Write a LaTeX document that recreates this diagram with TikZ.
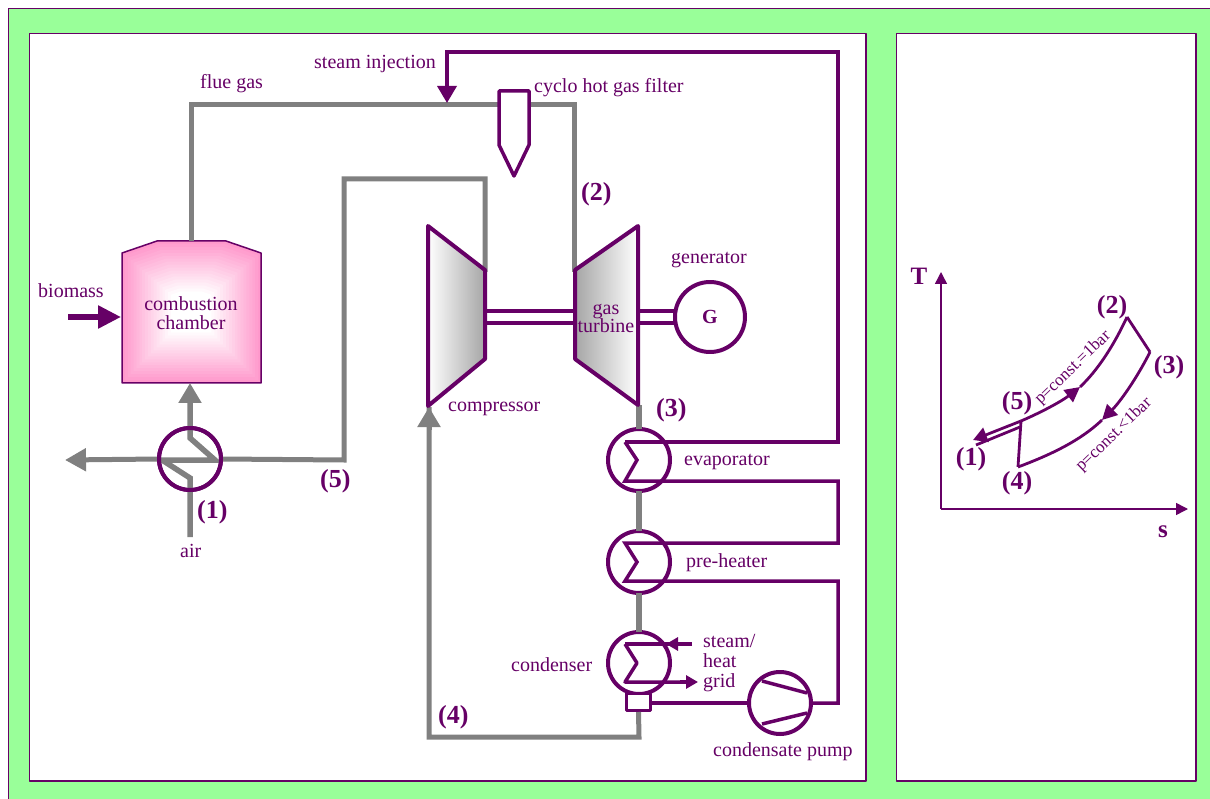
\documentclass[tikz,border=0pt]{standalone}
\usepackage{fontspec}
\setmainfont{Liberation Serif}
\usetikzlibrary{arrows.meta,calc}
\definecolor{violet1}{HTML}{660066}
\definecolor{pipegray}{HTML}{808080}
\definecolor{mintbg}{HTML}{99FF99}
\definecolor{rosefill}{HTML}{FF99CC}

\begin{document}
\begin{tikzpicture}[x=1pt, y=-1pt, >=Stealth, line join=round,
	   lbl/.style={text=violet1, font=\fontsize{20}{20}\selectfont, inner sep=0pt},
	   num/.style={text=violet1, font=\fontsize{26}{26}\selectfont\bfseries, inner sep=0pt},
	   press/.style={lbl, font=\fontsize{17}{17}\selectfont, rotate=44},
	   panel/.style={draw=violet1, fill=white, line width=1.5pt},
	   gas/.style={draw=pipegray, line width=5pt},
	   heavygas/.style={draw=pipegray, line width=6.5pt},
	   gasarrow/.style={gas, -{Triangle[length=21pt, width=22pt]}},
	   water/.style={draw=violet1, line width=3.5pt},
	   hx/.style={circle, draw=violet1, line width=4pt, minimum size=62pt, inner sep=0pt, outer sep=0pt},
	   thin1/.style={draw=violet1, line width=1.5pt},
	   cyc/.style={draw=violet1, line width=2.8pt}]
	  \useasboundingbox (0,0) rectangle (1210,799);
	  % panels
	  \path[fill=mintbg, draw=violet1, line width=1.5pt] (8.5,8.5) rectangle (1215,805);
	  \path[panel] (29.5,33.5) rectangle (866,781);
	  \path[panel] (896.5,33.5) rectangle (1196,781);

	  % named points of the gas and water lines
	  \coordinate (chtop) at (191,241);
	  \coordinate (flueA) at (191,105);
	  \coordinate (flueB) at (574,105);
	  \coordinate (turbin) at (574,272);
	  \coordinate (compout) at (485,272);
	  \coordinate (recA) at (485,179);
	  \coordinate (recB) at (344,179);
	  \coordinate (recC) at (344,460);
	  \coordinate (exhaust) at (65,460);
	  \coordinate (airin) at (190,537);
	  \coordinate (inj) at (447,103);
	  \coordinate (injA) at (447,52);
	  \coordinate (injB) at (838,52);
	  \coordinate (injC) at (838,442);
	  \coordinate (loopA) at (838,481);
	  \coordinate (loopB) at (838,543);
	  \coordinate (loopC) at (838,581);
	  \coordinate (loopD) at (838,703);
	  \coordinate (retA) at (639,737);
	  \coordinate (retB) at (429,737);
	  \coordinate (compin) at (429,407);
	  \coordinate (turbout) at (639,405);
	  \coordinate (biomassin) at (68,317);

	  % combustion chamber, shaded by nested outlines
	  \foreach \i in {0,...,24}{
	    \pgfmathsetmacro{\sc}{1-\i/24}
	    \pgfmathsetmacro{\mixv}{max(0,100-\i*100/17)}
	    \fill[rosefill!\mixv!white, shift={(191,312)}, xscale=\sc, yscale=\sc]
	      (-69,-59) -- (-34,-71) -- (35,-71) -- (70,-59) -- (70,71) -- (-69,71) -- cycle;
	  }
	  \draw[thin1] (122,253) -- (157,241) -- (226,241) -- (261,253) -- (261,383) -- (122,383) -- cycle;
	  \node[lbl, align=center] (chamber) at (191,313) {combustion\\[-1pt]chamber};

	  % machines
	  \node[hx] (hx1) at (190,459) {};
	  \node[hx] (evap) at (639,460) {};
	  \node[hx] (preh) at (639,562) {};
	  \node[hx] (cond) at (639,663) {};
	  \node[hx] (pump) at (780,703) {};
	  \node[hx, minimum size=70pt, font=\fontsize{20}{20}\selectfont\bfseries, text=violet1] (gen) at (710,317) {G};
	  \node[draw=violet1, line width=3pt, fill=white, minimum width=24pt, minimum height=17pt, inner sep=0pt] (box) at (638.5,702) {};

	  % gas lines
	  \draw[gas, line join=miter] (chtop) -- (flueA) -- (flueB) -- (turbin);
	  \draw[gas, line join=miter] (compout) -- (recA) -- (recB) -- (recC) -- (hx1.east);
	  \draw[gasarrow] (hx1.west) -- (exhaust);
	  \draw[gas, line width=5.5pt, -{Triangle[length=20pt, width=22pt]}, line join=miter] (airin) -- (190,478) -- (162,460) -- (215,460) -- (190,438) -- (190,383);
	  \draw[heavygas] (turbout) -- (evap.north);
	  \draw[heavygas] (evap.south) -- (preh.north);
	  \draw[heavygas] (preh.south) -- (cond.north);
	  \draw[gas, line join=miter] (box.south) -- (retA) -- (retB) -- (compin) ;
	  \draw[gasarrow, -{Triangle[length=20pt, width=22pt]}] (429,430) -- (compin);
	  \node[hx] at (hx1) {};

	  % filter on the flue gas line
	  \draw[draw=violet1, line width=3.5pt, fill=white] (499,91) -- (529,91) -- (529,145) -- (514,176) -- (499,145) -- cycle;

	  % compressor and turbine
	  \draw[water, line width=4pt, left color=white, right color=black!35, shade]
	    (428,226) -- (485,270) -- (485,359) -- (428,406) -- cycle;
	  \draw[water, line width=4pt, left color=black!35, right color=white, shade]
	    (575,270) -- (638,226) -- (638,405) -- (575,359) -- cycle;
	  \draw[water, line width=4pt] (487,311) -- (574,311);
	  \draw[water, line width=4pt] (487,323) -- (574,323);
	  \draw[water, line width=4pt] (640,311) -- (677,311);
	  \draw[water, line width=4pt] (640,323) -- (677,323);

	  % water side
	  \draw[water, line join=miter] (625,442) -- (637,460) -- (625,481) -- (loopA) -- (loopB) -- (625,543) -- (637,562) -- (625,581) -- (loopC) -- (loopD) -- (pump.east);
	  \draw[water, line join=miter] (625,442) -- (injC) -- (injB) -- (injA) -- (447,88);
	  \draw[-{Triangle[length=17pt, width=19pt]}, water, violet1] (447,80) -- (inj);
	  \draw[water] (625,644) -- (637,663) -- (625,682) -- (686,682);
	  \draw[water] (625,644) -- (680,644);
	  \draw[water, -{Triangle[length=12pt, width=13pt]}] (692,644) -- (666,644);
	  \draw[water, -{Triangle[length=12pt, width=13pt]}] (680,682) -- (698,682);
	  \draw[water, line width=4pt] (box.east |- pump.west) -- (pump.west);
	  \draw[water] (762,681) -- (807,693);
	  \draw[water] (762,724) -- (807,713);
	  \draw[violet1, line width=5.5pt, -{Triangle[length=23pt, width=22pt]}] (biomassin) -- (121,317);

	  % labels of the plant
	  \node[lbl, anchor=west] (lflue) at (200,84) {flue gas};
	  \node[lbl, anchor=west] (lsteam) at (314,64) {steam injection};
	  \node[lbl, anchor=west] (lfilter) at (534,88) {cyclo hot gas filter};
	  \node[lbl, anchor=west] (lbiomass) at (38,291) {biomass};
	  \node[lbl, anchor=west] (lgen) at (671,260) {generator};
	  \node[lbl, align=center] (lturb) at (606,318) {gas\\[-2pt]turbine};
	  \node[lbl, anchor=west] (lcomp) at (448,409) {compressor};
	  \node[lbl, anchor=west] (levap) at (684,462) {evaporator};
	  \node[lbl, anchor=west] (lpreh) at (686,563) {pre-heater};
	  \node[lbl, anchor=west] (lcond) at (511,665) {condenser};
	  \node[lbl, anchor=west, align=left] (lgrid) at (703,663) {steam/\\heat\\grid};
	  \node[lbl, anchor=west] (lpump) at (713,752) {condensate pump};
	  \node[lbl, anchor=west] (lair) at (180,551) {air};
	  \node[num, anchor=west] (n1) at (197,512) {(1)};
	  \node[num, anchor=west] (n2) at (581,194) {(2)};
	  \node[num, anchor=west] (n3) at (656,410) {(3)};
	  \node[num, anchor=west] (n4) at (438,717) {(4)};
	  \node[num, anchor=west] (n5) at (320,481) {(5)};

	  % T-s diagram
	  \coordinate (org) at (941,509);
	  \coordinate (ttip) at (941,272);
	  \coordinate (stip) at (1188,509);
	  \coordinate (s1) at (973,440);
	  \coordinate (s1b) at (976,445);
	  \coordinate (s2) at (1127,317);
	  \coordinate (s3) at (1150,352);
	  \coordinate (s4) at (1018,467);
	  \coordinate (s5) at (1021,421);
	  \coordinate (m25) at (1080,387);
	  \coordinate (m34) at (1102,420);
	  \draw[thin1, -{Triangle[length=12pt, width=12pt]}] (org) -- (ttip);
	  \draw[thin1, -{Triangle[length=12pt, width=12pt]}] (org) -- (stip);
	  \draw[cyc, -{Triangle[length=15pt, width=15pt]}] (s5) .. controls (1042,412) and (1062,401) .. (m25);
	  \draw[cyc] (m25) .. controls (1098,370) and (1114,345) .. (s2);
	  \draw[cyc] (s2) -- (s3);
	  \draw[cyc, -{Triangle[length=15pt, width=15pt]}] (s3) .. controls (1137,378) and (1120,402) .. (m34);
	  \draw[cyc] (m34) .. controls (1080,441) and (1050,455) .. (s4);
	  \draw[cyc] (s4) -- (s5);
	  \draw[cyc, -{Triangle[length=14pt, width=15pt]}] (s5) -- (s1);
	  \draw[cyc] (1020,427) -- (s1b);
	  \node[num, anchor=center] (t1) at (971,459) {(1)};
	  \node[num, anchor=center] (t2) at (1112,307) {(2)};
	  \node[num, anchor=center] (t3) at (1169,367) {(3)};
	  \node[num, anchor=center] (t4) at (1017,483) {(4)};
	  \node[num, anchor=center] (t5) at (1017,403) {(5)};
	  \node[num, font=\fontsize{25}{25}\selectfont\bfseries] (lt) at (919,276) {T};
	  \node[num, font=\fontsize{25}{25}\selectfont\bfseries] (ls) at (1163,532) {s};
	  \node[press] (pa) at (1073,368) {p=const.=1bar};
	  \node[press] (pb) at (1114,435) {p=const.<1bar};
	\end{tikzpicture}
\end{document}
